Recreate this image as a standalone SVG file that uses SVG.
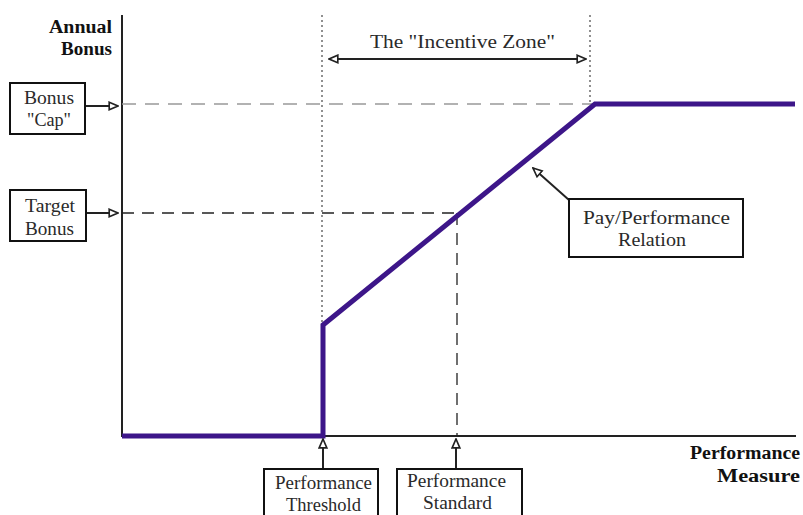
<svg xmlns="http://www.w3.org/2000/svg" width="803" height="515" viewBox="0 0 803 515" font-family="'Liberation Serif', 'DejaVu Serif', serif">
<defs>
<style>
text{font-family:"Liberation Serif","DejaVu Serif",serif;fill:#2a2a2a;font-size:18px}
.b{font-weight:bold;fill:#111}
.box{fill:#fff;stroke:#111;stroke-width:2}
.ax{stroke:#222;stroke-width:2;fill:none}
.ar{stroke:#222;stroke-width:2;fill:none}
.dot{stroke:#555;stroke-width:1.3;stroke-dasharray:2 3;fill:none}
</style>
<marker id="oa" viewBox="0 0 10 10" refX="9" refY="5" markerWidth="11" markerHeight="11" markerUnits="userSpaceOnUse" orient="auto-start-reverse">
<path d="M1,1.5 L9,5 L1,8.5 Z" fill="#fff" stroke="#222" stroke-width="1.5"/>
</marker>
</defs>
<rect width="803" height="515" fill="#fff"/>
<g id="axes">
<line class="ax" x1="122" y1="15" x2="122" y2="437"/>
<line class="ax" x1="122" y1="436" x2="796" y2="436"/>
<text class="b" x="49" y="33" textLength="63" lengthAdjust="spacingAndGlyphs">Annual</text>
<text class="b" x="61" y="55" textLength="51" lengthAdjust="spacingAndGlyphs">Bonus</text>
<text class="b" x="690" y="459" textLength="110" lengthAdjust="spacingAndGlyphs">Performance</text>
<text class="b" x="717" y="482" textLength="83" lengthAdjust="spacingAndGlyphs">Measure</text>
</g>
<g id="guides">
<line class="dot" x1="322" y1="15" x2="322" y2="324"/>
<line class="dot" x1="590" y1="15" x2="590" y2="103"/>
<line x1="122" y1="104" x2="594" y2="104" stroke="#999" stroke-width="1.5" stroke-dasharray="14 9"/>
<line x1="122" y1="213" x2="457" y2="213" stroke="#222" stroke-width="1.3" stroke-dasharray="12 8"/>
<line x1="457" y1="213" x2="457" y2="436" stroke="#222" stroke-width="1.3" stroke-dasharray="12 8"/>
</g>
<g id="curve">
<polyline points="122,436 323,436 323,325 595,104 795,104" fill="none" stroke="#3d1689" stroke-width="5" stroke-linejoin="miter"/>
</g>
<g id="connectors">
<line class="ar" x1="329" y1="59" x2="586" y2="59" marker-start="url(#oa)" marker-end="url(#oa)" stroke-width="1.5"/>
<line class="ar" x1="86" y1="106" x2="118" y2="106" marker-end="url(#oa)"/>
<line class="ar" x1="86" y1="213" x2="118" y2="213" marker-end="url(#oa)"/>
<line class="ar" x1="323" y1="469" x2="323" y2="439" marker-end="url(#oa)"/>
<line class="ar" x1="456" y1="469" x2="456" y2="439" marker-end="url(#oa)"/>
<line class="ar" x1="569" y1="200" x2="533" y2="168" marker-end="url(#oa)"/>
</g>
<g id="zone-label">
<text x="370" y="48" textLength="185" lengthAdjust="spacingAndGlyphs">The "Incentive Zone"</text>
</g>
<g id="bonus-cap">
<rect class="box" x="10" y="83" width="75" height="51"/>
<text x="24" y="104" textLength="50" lengthAdjust="spacingAndGlyphs">Bonus</text>
<text x="27" y="126" textLength="44" lengthAdjust="spacingAndGlyphs">"Cap"</text>
</g>
<g id="target-bonus">
<rect class="box" x="10" y="190" width="76" height="51"/>
<text x="25" y="212" textLength="50" lengthAdjust="spacingAndGlyphs">Target</text>
<text x="25" y="235" textLength="49" lengthAdjust="spacingAndGlyphs">Bonus</text>
</g>
<g id="pay-performance">
<rect class="box" x="569" y="199" width="174" height="58"/>
<text x="583" y="224" textLength="147" lengthAdjust="spacingAndGlyphs">Pay/Performance</text>
<text x="618" y="246" textLength="68" lengthAdjust="spacingAndGlyphs">Relation</text>
</g>
<g id="threshold">
<rect class="box" x="264" y="469" width="114" height="60"/>
<text x="275" y="489" textLength="97" lengthAdjust="spacingAndGlyphs">Performance</text>
<text x="286" y="511" textLength="75" lengthAdjust="spacingAndGlyphs">Threshold</text>
</g>
<g id="standard">
<rect class="box" x="397" y="469" width="125" height="60"/>
<text x="407" y="487" textLength="99" lengthAdjust="spacingAndGlyphs">Performance</text>
<text x="423" y="509" textLength="69" lengthAdjust="spacingAndGlyphs">Standard</text>
</g>
</svg>
